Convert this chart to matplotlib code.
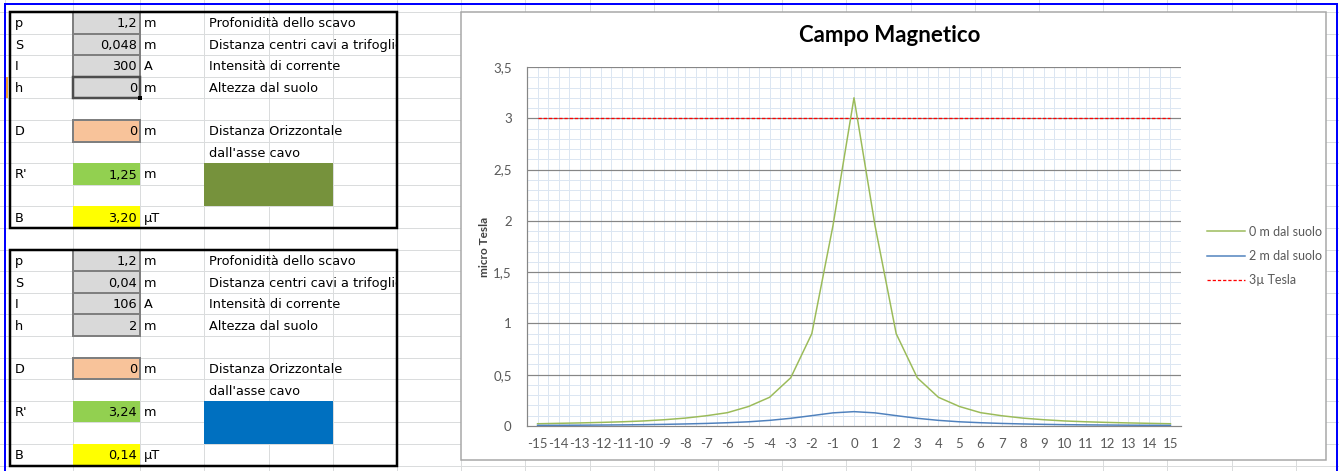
import matplotlib.pyplot as plt
from matplotlib.patches import Rectangle
from matplotlib.transforms import Bbox, TransformedBbox
import numpy as np

# --- data ---
distanze = list(range(-15, 16))
campo_0m = [0.022, 0.026, 0.030, 0.035, 0.041, 0.049, 0.061, 0.077, 0.10, 0.13, 0.19, 0.28, 0.47, 0.90, 1.95,
            3.20,
            1.95, 0.90, 0.47, 0.28, 0.19, 0.13, 0.10, 0.077, 0.061, 0.049, 0.041, 0.035, 0.030, 0.026, 0.022]
campo_2m = [0.006, 0.007, 0.008, 0.0095, 0.011, 0.013, 0.016, 0.020, 0.025, 0.032, 0.041, 0.055, 0.075, 0.101, 0.128,
            0.14,
            0.128, 0.101, 0.075, 0.055, 0.041, 0.032, 0.025, 0.020, 0.016, 0.013, 0.011, 0.0095, 0.008, 0.007, 0.006]
limite = [3] * len(distanze)
serie_labels = ['0 m dal suolo', '2 m dal suolo', '3µ Tesla']
yticks = [0, 0.5, 1, 1.5, 2, 2.5, 3, 3.5]

sigle = ['p', 'S', 'I', 'h', 'D', "R'", 'B']
unita = ['m', 'm', 'A', 'm', 'm', 'm', 'µT']
descr = ['Profonidità dello scavo', 'Distanza centri cavi a trifoglio', 'Intensità di corrente',
         'Altezza dal suolo', 'Distanza Orizzontale']
valori_1 = ['1,2', '0,048', '300', '0', '0', '1,25', '3,20']
valori_2 = ['1,2', '0,04', '106', '2', '0', '3,24', '0,14']

W, H = 1339, 471
fig = plt.figure(figsize=(W / 100, H / 100), dpi=100)
bg = fig.add_axes([0, 0, 1, 1])
bg.set_xlim(0, W)
bg.set_ylim(H, 0)
bg.axis('off')


def px(v):
    return v * 0.72


RH = 21.6
# excel gridlines
cols = [5, 73, 140, 204, 269, 333, 397] + [397 + 64.2 * k for k in range(1, 16)]
for c in cols:
    bg.plot([c, c], [0, H], color='#dadcdd', lw=px(1), zorder=1)
for k in range(-1, 22):
    r = 12 + RH * k
    bg.plot([0, W], [r, r], color='#dadcdd', lw=px(1), zorder=1)

clip = TransformedBbox(Bbox([[0, 0], [396, H]]), bg.transData)
font = 'DejaVu Sans'
fs = 9.3


def box(top, valori, colore):
    y = lambda i: top + i * RH
    for i in range(4):
        bg.add_patch(Rectangle((73, y(i)), 67, RH, fc='#d9d9d9', ec='#7f7f7f', lw=px(2), zorder=2))
    bg.add_patch(Rectangle((73, y(5)), 67, RH, fc='#f8c39a', ec='#7f7f7f', lw=px(2), zorder=2))
    bg.add_patch(Rectangle((73, y(7)), 67, RH, fc='#92d050', ec='none', zorder=2))
    bg.add_patch(Rectangle((73, y(9)), 67, RH, fc='#ffff00', ec='none', zorder=2))
    bg.add_patch(Rectangle((204, y(7)), 129, 2 * RH, fc=colore, ec='none', zorder=2))
    bg.add_patch(Rectangle((10, top), 387, 10 * RH, fc='none', ec='black', lw=px(2.5), zorder=4))
    righe = [0, 1, 2, 3, 5, 7, 9]
    for j, i in enumerate(righe):
        yc = y(i) + RH / 2 + 1
        bg.text(15, yc, sigle[j], va='center', ha='left', fontsize=fs, family=font, zorder=5)
        bg.text(137, yc, valori[j], va='center', ha='right', fontsize=fs, family=font, zorder=5)
        bg.text(144, yc, unita[j], va='center', ha='left', fontsize=fs, family=font, zorder=5)
        if j < len(descr):
            t = bg.text(209, yc, descr[j], va='center', ha='left', fontsize=fs, family=font, zorder=5)
            t.set_clip_box(clip)
            t.set_clip_on(True)
    bg.text(209, y(6) + RH / 2 + 1, "dall'asse cavo", va='center', ha='left', fontsize=fs, family=font, zorder=5)


box(12, valori_1, '#76923c')
box(12 + 11 * RH, valori_2, '#0070c0')

# selected cell
bg.add_patch(Rectangle((73, 12 + 3 * RH), 67, RH, fc='none', ec='#4d4d4d', lw=px(2.5), zorder=3))
bg.add_patch(Rectangle((138, 12 + 4 * RH - 2), 4, 4, fc='black', ec='none', zorder=4))
bg.plot([7, 7], [12 + 3 * RH + 1, 12 + 4 * RH - 1], color='#f0a030', lw=px(2), zorder=3)

# blue frame
bg.plot([5, 5], [3.5, H], color='#0000ff', lw=px(2), zorder=6)
bg.plot([5, 1337], [3.5, 3.5], color='#0000ff', lw=px(2), zorder=6)
bg.plot([1337, 1337], [3.5, H], color='#0000ff', lw=px(2), zorder=6)

# chart area
bg.add_patch(Rectangle((461, 12), 865, 448, fc='white', ec='#a6a6a6', lw=px(1.5), zorder=7))

ax = fig.add_axes([527 / W, 1 - 426 / H, 654 / W, 359 / H])
ax.set_facecolor('white')
ax.set_xlim(-15.5, 15.5)
ax.set_ylim(0, 3.5)
for v in np.arange(0.1, 3.5, 0.1):
    ax.axhline(v, color='#dce6f2', lw=px(1), zorder=1)
for v in np.arange(-15.5, 15.6, 0.5):
    ax.axvline(v, color='#dce6f2', lw=px(1), zorder=1)
for v in yticks[1:]:
    ax.axhline(v, color='#868686', lw=px(1.2), zorder=2)

l1, = ax.plot(distanze, campo_0m, color='#9bbb59', lw=px(1.5), zorder=4)
l2, = ax.plot(distanze, campo_2m, color='#4f81bd', lw=px(1.5), zorder=4)
l3, = ax.plot(distanze, limite, color='#ff0000', lw=px(1.3), dashes=(2.5, 1.5), zorder=3)

for s in ['top', 'right']:
    ax.spines[s].set_visible(False)
for s in ['left', 'bottom']:
    ax.spines[s].set_color('#868686')
    ax.spines[s].set_linewidth(px(1.2))
ax.set_xticks(distanze)
ax.set_xticklabels([str(d) for d in distanze])
ax.set_yticks(yticks)
ax.set_yticklabels([('%g' % v).replace('.', ',') for v in yticks])
ax.tick_params(length=0, labelsize=9.5, colors='#595959')
ax.tick_params(axis='x', pad=9)
ax.tick_params(axis='y', pad=11)
for t in ax.get_xticklabels() + ax.get_yticklabels():
    t.set_family('Lato')

fig.text(890 / W, 1 - 36 / H, 'Campo Magnetico', ha='center', va='center', fontsize=16,
         fontweight='bold', family='Lato')
fig.text(485 / W, 1 - 247 / H, 'micro Tesla', ha='center', va='center', rotation=90,
         fontsize=8.5, fontweight='bold', family='Lato', color='#404040')

fig.legend([l1, l2, l3], serie_labels, loc='center left', bbox_to_anchor=(1196 / W, 1 - 256 / H),
           frameon=False, handlelength=3.0, handletextpad=0.35, labelspacing=1.0,
           prop={'family': 'Lato', 'size': 9}, labelcolor='#595959')

fig.savefig('out.png', dpi=100)
